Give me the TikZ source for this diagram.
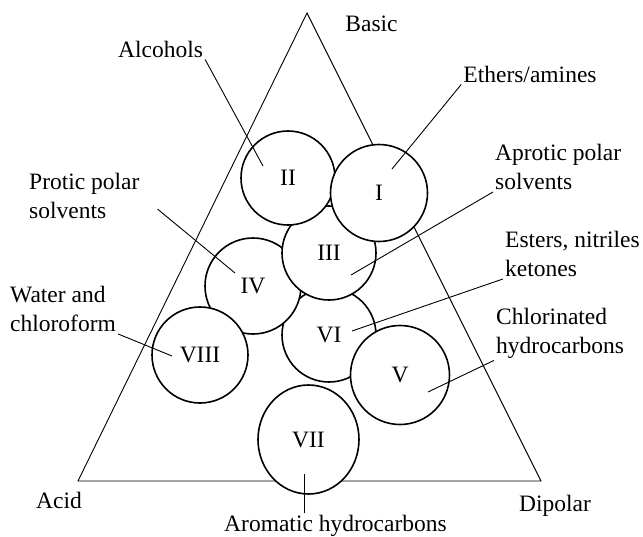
\documentclass[tikz,border=0pt]{standalone}
\usepackage{fontspec}
\setmainfont{Liberation Serif}
\usetikzlibrary{shapes.geometric,calc}

\begin{document}
\begin{tikzpicture}
[x=1pt,y=-1pt,every node/.style={font=\fontsize{23.5}{29}\selectfont,inner sep=2pt},
 solv/.style={circle,draw,fill=white,line width=1.6pt,minimum size=96pt,inner sep=0pt},
 lab/.style={align=left,anchor=west},
 lead/.style={line width=0.9pt}]
\useasboundingbox (0,0) rectangle (643,536);
% corners of the triangle
\coordinate (top) at (307,13);
\coordinate (lft) at (78,481);
\coordinate (rgt) at (541,481);
\draw[line width=0.9pt] (top) -- (lft) -- (rgt) -- cycle;
% solvent groups, back to front
\node[solv,minimum size=94pt] (c6) at (329,335) {VI};
\node[solv] (c4) at (253,286) {IV};
\node[solv,minimum size=94pt] (c3) at (329,253) {III};
\node[solv,minimum size=94pt] (c2) at (288,178) {II};
\node[solv,minimum size=97pt] (c1) at (379,193) {I};
\node[solv] (c8) at (200,355) {VIII};
\node[solv,minimum size=99pt] (c5) at (400,375) {V};
\node[solv,ellipse,minimum width=101pt,minimum height=109pt] (c7) at (308.5,439.5) {VII};
% corner labels
\node (bas) at (371.5,24) {Basic};
\node (aci) at (59,500) {Acid};
\node (dip) at (555,506) {Dipolar};
% group labels
\node (alc) at (160.5,49) {Alcohols};
\node (eth) at (530,74) {Ethers/amines};
\node[lab] (apr) at (493,167) {Aprotic polar\\solvents};
\node[lab] (est) at (503,254) {Esters, nitriles\\ketones};
\node[lab] (chl) at (494,333) {Chlorinated\\hydrocarbons};
\node[lab] (pro) at (27,196) {Protic polar\\solvents};
\node[lab] (wat) at (8,309) {Water and\\chloroform};
\node (aro) at (335.5,526) {Aromatic hydrocarbons};
% ends of the leader lines
\coordinate (e1) at (392,169);
\coordinate (e2) at (263,166);
\coordinate (e3) at (351,275);
\coordinate (e4) at (235,273);
\coordinate (e5) at (428,392);
\coordinate (e6) at (352,331);
\coordinate (e7) at (304,474);
\coordinate (e8) at (172,356);
\foreach \from/\to in {alc.south east/e2,eth.south west/e1,apr.south west/e3,est.south west/e6,chl.south west/e5,wat.south east/e8}
\draw[lead] (\from) -- (\to);
\draw[lead] ($(pro.east)!0.17!(e4)$) -- (e4);
\draw[lead] (e7) -- (e7 |- aro.north);
\end{tikzpicture}
\end{document}
